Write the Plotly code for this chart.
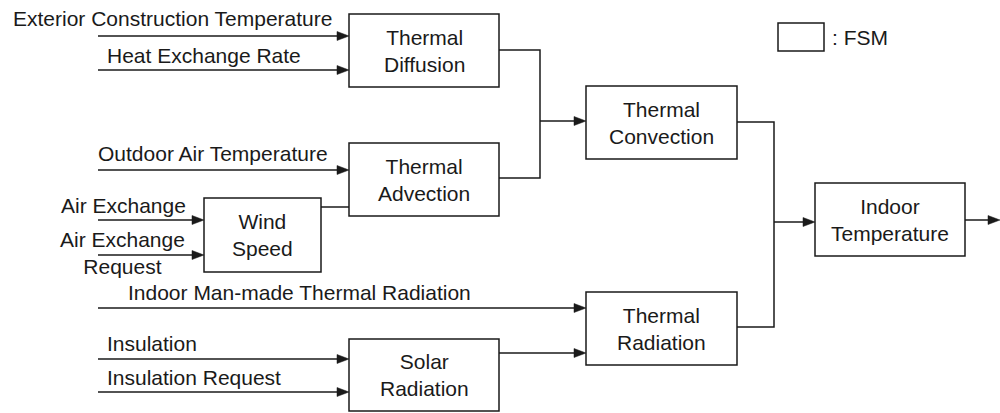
import plotly.graph_objects as go

# ---- blocks (FSMs) ----
box_labels = ["Thermal<br>Diffusion", "Thermal<br>Advection", "Wind<br>Speed",
              "Thermal<br>Convection", "Thermal<br>Radiation", "Solar<br>Radiation",
              "Indoor<br>Temperature"]
box_x0 = [349, 349, 204, 586, 586, 349, 815]
box_x1 = [499, 499, 321, 737, 737, 499, 965]
box_y0 = [14, 143, 198, 86, 292, 339, 183]
box_y1 = [87, 216, 272, 159, 365, 411, 256]

# ---- wires: polylines, with arrow flag ----
wire_x = [[98, 349], [98, 349], [98, 349], [98, 204], [98, 204], [321, 349],
          [499, 540, 540, 499], [540, 586], [98, 586], [98, 349], [98, 349],
          [499, 586], [737, 774, 774, 737], [774, 815], [965, 1000]]
wire_y = [[36, 36], [70, 70], [170, 170], [220, 220], [255, 255], [207, 207],
          [50, 50, 178, 178], [121, 121], [308, 308], [359, 359], [392, 392],
          [353, 353], [122, 122, 327, 327], [222, 222], [220, 220]]
wire_arrow = [True, True, True, True, True, False, False, True, True, True, True,
              True, False, True, True]

# ---- input labels ----
label_text = ["Exterior Construction Temperature", "Heat Exchange Rate",
              "Outdoor Air Temperature", "Air Exchange", "Air Exchange<br>Request",
              "Indoor Man-made Thermal Radiation", "Insulation", "Insulation Request"]
label_x = [11, 105, 96, 59, 122, 126, 105, 105]
label_y = [18, 55, 153, 205, 253, 292, 343, 377]
label_anchor = ["left", "left", "left", "left", "center", "left", "left", "left"]

# ---- legend ----
legend_box = [778, 824, 23, 51]
legend_text = ": FSM"

FONT = dict(family="Liberation Sans, Arial, Helvetica, sans-serif", size=21, color="#1a1a1a")
LINE = "#1a1a1a"
AH_LEN, AH_HALF = 12, 4.5

fig = go.Figure()
shapes = []
annotations = []

for lab, x0, x1, y0, y1 in zip(box_labels, box_x0, box_x1, box_y0, box_y1):
    shapes.append(dict(type="rect", xref="x", yref="y", x0=x0, x1=x1, y0=y0, y1=y1,
                       line=dict(color=LINE, width=1.5), fillcolor="rgba(0,0,0,0)"))
    annotations.append(dict(x=(x0 + x1) / 2, y=(y0 + y1) / 2, text=lab, showarrow=False,
                            xref="x", yref="y", xanchor="center", yanchor="middle",
                            font=FONT, align="center"))

for xs, ys, arr in zip(wire_x, wire_y, wire_arrow):
    ex, ey = xs[-1], ys[-1]
    px, py = xs[-2], ys[-2]
    xs_draw = list(xs)
    ys_draw = list(ys)
    if arr:
        dx, dy = ex - px, ey - py
        n = (dx ** 2 + dy ** 2) ** 0.5
        ux, uy = dx / n, dy / n
        bx, by = ex - ux * AH_LEN, ey - uy * AH_LEN
        xs_draw[-1] = bx + ux * 2
        ys_draw[-1] = by + uy * 2
        path = (f"M {ex},{ey} L {bx - uy * AH_HALF},{by + ux * AH_HALF} "
                f"L {bx + uy * AH_HALF},{by - ux * AH_HALF} Z")
        shapes.append(dict(type="path", xref="x", yref="y", path=path,
                           fillcolor=LINE, line=dict(color=LINE, width=0.5)))
    fig.add_trace(go.Scatter(x=xs_draw, y=ys_draw, mode="lines",
                             line=dict(color=LINE, width=1.5), hoverinfo="skip",
                             showlegend=False))

for t, x, y, a in zip(label_text, label_x, label_y, label_anchor):
    annotations.append(dict(x=x, y=y, text=t, showarrow=False, xref="x", yref="y",
                            xanchor=a, yanchor="middle", font=FONT, align="center"))

shapes.append(dict(type="rect", xref="x", yref="y", x0=legend_box[0], x1=legend_box[1],
                   y0=legend_box[2], y1=legend_box[3], line=dict(color=LINE, width=1.5)))
annotations.append(dict(x=legend_box[1] + 6, y=(legend_box[2] + legend_box[3]) / 2,
                        text=legend_text, showarrow=False, xref="x", yref="y",
                        xanchor="left", yanchor="middle", font=FONT))

fig.update_layout(
    width=1000, height=413,
    margin=dict(l=0, r=0, t=0, b=0),
    paper_bgcolor="white", plot_bgcolor="white",
    xaxis=dict(range=[0, 1000], visible=False, fixedrange=True),
    yaxis=dict(range=[413, 0], visible=False, fixedrange=True),
    shapes=shapes, annotations=annotations,
    showlegend=False,
)

fig.write_html("out.html",
               config={"displayModeBar": False, "staticPlot": True},
               post_script="document.body.style.margin='0px';document.body.style.overflow='hidden';")
